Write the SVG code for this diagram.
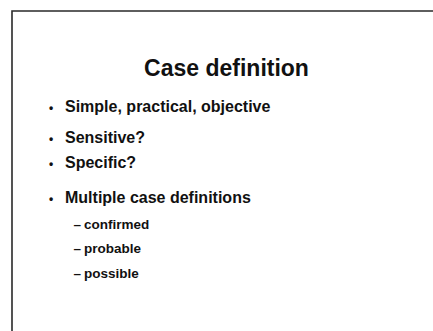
<svg xmlns="http://www.w3.org/2000/svg" width="433" height="331" viewBox="0 0 433 331">
  <style>
    .frame { fill: none; stroke: #2a2a2a; stroke-width: 1.6; }
    .title { font-family: "Liberation Sans", Arial, sans-serif; font-weight: bold; font-size: 23px; fill: #111; }
    .item { font-family: "Liberation Sans", Arial, sans-serif; font-weight: bold; font-size: 16px; fill: #111; }
    .dot { font-family: "Liberation Sans", Arial, sans-serif; font-weight: bold; font-size: 12px; fill: #111; }
    .sub { font-family: "Liberation Sans", Arial, sans-serif; font-weight: bold; font-size: 13.5px; fill: #111; }
  </style>
  <rect width="433" height="331" fill="#ffffff"/>
  <!-- slide frame: top and left edges -->
  <path class="frame" d="M12 331 V11 H433"/>
  <g id="title">
    <text class="title" x="226.5" y="76" text-anchor="middle">Case definition</text>
  </g>
  <g id="bullets">
    <text class="dot" x="51" y="111.5" text-anchor="middle">•</text>
    <text class="item" x="65" y="112">Simple, practical, objective</text>
    <text class="dot" x="51" y="142.5" text-anchor="middle">•</text>
    <text class="item" x="65" y="143">Sensitive?</text>
    <text class="dot" x="51" y="167.5" text-anchor="middle">•</text>
    <text class="item" x="65" y="168">Specific?</text>
    <text class="dot" x="51" y="202.5" text-anchor="middle">•</text>
    <text class="item" x="65" y="203">Multiple case definitions</text>
  </g>
  <g id="subitems">
    <text class="sub" x="73.5" y="229">–</text>
    <text class="sub" x="84" y="229">confirmed</text>
    <text class="sub" x="73.5" y="253">–</text>
    <text class="sub" x="84" y="253">probable</text>
    <text class="sub" x="73.5" y="278">–</text>
    <text class="sub" x="84" y="278">possible</text>
  </g>
</svg>
